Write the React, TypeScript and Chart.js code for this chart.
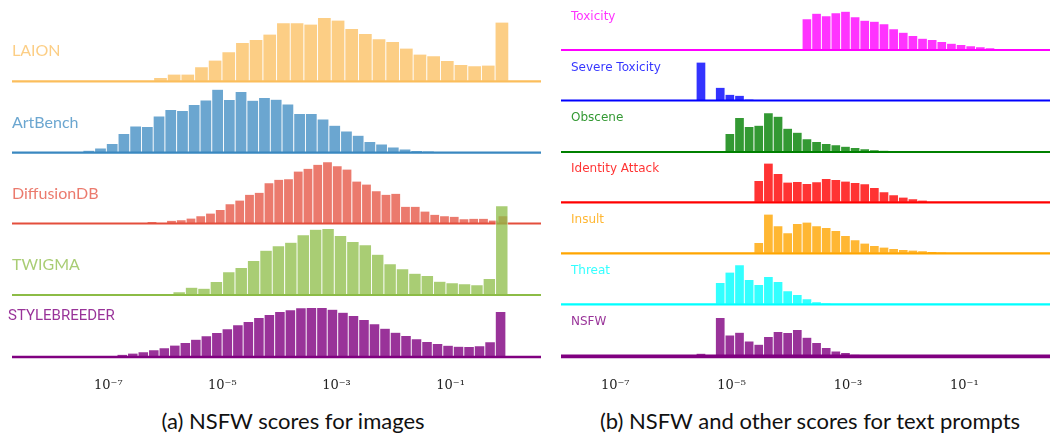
import React, { useEffect, useRef } from 'react';
import { Chart, registerables } from 'chart.js';

Chart.register(...registerables);

// ---------------- data (histogram heights) ----------------
// x values are log10(score); each left-panel series has its own log-spaced bins
const X_TICKS = [-7, -5, -3, -1];

const LAION = [3.3, 6.7, 6.7, 14, 20.7, 29, 38.3, 41.3, 46.7, 58, 58, 56.7, 63.3, 60.7, 52.3, 47.3, 42, 39.3, 32.7, 26.7, 25, 20.3, 16.3, 15, 15.7, 58.7];
const LAION_FIRST_BIN = -6.085;
const LAION_BIN_WIDTH = 0.2394;

const ARTBENCH = [2, 4.3, 8.7, 18.7, 26.3, 25.7, 36.3, 42.7, 41.7, 47.7, 52.3, 63, 52.7, 60.7, 52, 54.7, 53, 48.3, 38.7, 38.7, 33.3, 27, 21.3, 17, 10.7, 8.3, 5.3, 3.3, 1.7, 1.3, 0.5, 0.3];
const ARTBENCH_FIRST_BIN = -7.342;
const ARTBENCH_BIN_WIDTH = 0.2053;

const DIFFUSIONDB = [1.5, 0.3, 2.7, 3.3, 5, 7.3, 10, 13.5, 19.3, 23, 28.7, 30.7, 40.3, 43.7, 44.3, 52, 54.7, 58.7, 61.3, 57.3, 54, 42, 39, 32.3, 28.7, 29.7, 16.7, 16.7, 12, 8.7, 7.3, 6.7, 4.3, 4.7, 4.7, 3, 7.3];
const DIFFUSIONDB_FIRST_BIN = -6.234;
const DIFFUSIONDB_BIN_WIDTH = 0.1709;

const TWIGMA = [0.7, 2.7, 7.3, 6.3, 13, 22.7, 27, 34, 44.3, 48.7, 52.3, 59.7, 65.3, 66, 59, 53, 49.7, 40.3, 30.7, 25.7, 21.3, 19, 13.3, 11.7, 10.7, 9.7, 16, 88.7];
const TWIGMA_FIRST_BIN = -5.975;
const TWIGMA_BIN_WIDTH = 0.2175;

const STYLEBREEDER = [0.3, 1, 2.2, 3.5, 4.8, 6.7, 8.8, 11.5, 14, 17.3, 20.8, 24, 27.7, 31.7, 35, 39, 42, 45, 46.7, 48.7, 49, 49, 47.3, 44.3, 41, 37, 32.7, 28.3, 24.3, 21, 17.7, 15, 13, 11.3, 10.3, 10, 10.7, 14.7, 45];
const STYLEBREEDER_FIRST_BIN = -7.123;
const STYLEBREEDER_BIN_WIDTH = 0.1842;

// right panel: all series share the same bins
const TEXT_FIRST_BIN = -5.527;
const TEXT_BIN_WIDTH = 0.1656;

const TOXICITY = [30.7, 36.3, 33.7, 36.7, 38.3, 32.7, 29.3, 28.3, 25.7, 20.7, 17.3, 14, 11.3, 10, 8, 6.3, 5, 3.7, 2.7, 1.7, 1, 0.3];
const TOXICITY_START = 11;
const SEVERE_TOXICITY = [38, 0, 12.7, 5.7, 4.7, 1];
const SEVERE_TOXICITY_START = 0;
const OBSCENE = [18, 34, 25, 26.3, 38.7, 35.3, 23.3, 19.3, 12.7, 10, 8, 6.7, 5.3, 4, 2.7, 1.7, 1.3];
const OBSCENE_START = 3;
const IDENTITY_ATTACK = [21.3, 38.7, 28.3, 19.7, 20.3, 18.3, 20, 23.3, 22.3, 20.7, 19.3, 18, 14.3, 10, 7, 4.7, 3, 1.7];
const IDENTITY_ATTACK_START = 6;
const INSULT = [10.3, 38.7, 27, 20, 29.3, 30.7, 27, 25.3, 22.3, 17.3, 13, 9.7, 7.3, 5.7, 4.3, 3.3, 2.7, 2, 1.3, 0.7];
const INSULT_START = 6;
const THREAT = [21.3, 31.7, 39, 24.3, 19.3, 27.3, 22.3, 13, 9.3, 5, 2, 0.7];
const THREAT_START = 2;
const NSFW_TEXT = [2.7, 0, 38.3, 21, 23.7, 15, 11.7, 19.3, 24.3, 23.3, 26.3, 18.7, 13.3, 8.3, 5, 3.3, 1.7, 0.7];
const NSFW_TEXT_START = 0;

// ---------------- layout / style ----------------
const PLOT_H = 370; // plot area height in px (y unit = 1px, measured from the top)

const LEFT_X_RANGE = [-8.688, 0.585];
const RIGHT_X_RANGE = [-7.933, 0.473];

type Row = {
  name: string;
  values: number[];
  first: number;
  step: number;
  rgb: number[];
  base: number;
  lineWidth: number;
  labelDy: number;
  labelDx: number;
  font: string;
  alpha: number;
};

const LEFT_FONT = '16px Lato';
const RIGHT_FONT = '12px "DejaVu Sans"';

const LEFT_ROWS: Row[] = [
  { name: 'LAION', values: LAION, first: LAION_FIRST_BIN, step: LAION_BIN_WIDTH, rgb: [251, 190, 92], base: 81.3, lineWidth: 2.2, labelDy: -30, labelDx: 0, font: LEFT_FONT, alpha: 0.75 },
  { name: 'ArtBench', values: ARTBENCH, first: ARTBENCH_FIRST_BIN, step: ARTBENCH_BIN_WIDTH, rgb: [58, 136, 192], base: 152.7, lineWidth: 2.2, labelDy: -30, labelDx: 0, font: LEFT_FONT, alpha: 0.75 },
  { name: 'DiffusionDB', values: DIFFUSIONDB, first: DIFFUSIONDB_FIRST_BIN, step: DIFFUSIONDB_BIN_WIDTH, rgb: [228, 78, 60], base: 223.5, lineWidth: 2.2, labelDy: -30, labelDx: 0, font: LEFT_FONT, alpha: 0.75 },
  { name: 'TWIGMA', values: TWIGMA, first: TWIGMA_FIRST_BIN, step: TWIGMA_BIN_WIDTH, rgb: [140, 188, 70], base: 295, lineWidth: 2.2, labelDy: -30, labelDx: 0, font: LEFT_FONT, alpha: 0.75 },
  { name: 'STYLEBREEDER', values: STYLEBREEDER, first: STYLEBREEDER_FIRST_BIN, step: STYLEBREEDER_BIN_WIDTH, rgb: [128, 0, 128], base: 357, lineWidth: 2.6, labelDy: -41, labelDx: -4, font: '15px Roboto', alpha: 0.8 },
];

const textBin = (start: number) => TEXT_FIRST_BIN + start * TEXT_BIN_WIDTH;

const RIGHT_ROWS: Row[] = [
  { name: 'Toxicity', values: TOXICITY, first: textBin(TOXICITY_START), step: TEXT_BIN_WIDTH, rgb: [255, 0, 255], base: 50, lineWidth: 2.2, labelDy: -33, labelDx: 10, font: RIGHT_FONT, alpha: 0.8 },
  { name: 'Severe Toxicity', values: SEVERE_TOXICITY, first: textBin(SEVERE_TOXICITY_START), step: TEXT_BIN_WIDTH, rgb: [0, 0, 255], base: 100.5, lineWidth: 2.2, labelDy: -33, labelDx: 10, font: RIGHT_FONT, alpha: 0.8 },
  { name: 'Obscene', values: OBSCENE, first: textBin(OBSCENE_START), step: TEXT_BIN_WIDTH, rgb: [0, 128, 0], base: 152, lineWidth: 2.2, labelDy: -34, labelDx: 10, font: RIGHT_FONT, alpha: 0.8 },
  { name: 'Identity Attack', values: IDENTITY_ATTACK, first: textBin(IDENTITY_ATTACK_START), step: TEXT_BIN_WIDTH, rgb: [255, 0, 0], base: 202.3, lineWidth: 2.2, labelDy: -33.5, labelDx: 10, font: RIGHT_FONT, alpha: 0.8 },
  { name: 'Insult', values: INSULT, first: textBin(INSULT_START), step: TEXT_BIN_WIDTH, rgb: [255, 165, 0], base: 253.3, lineWidth: 2.2, labelDy: -33.5, labelDx: 10, font: RIGHT_FONT, alpha: 0.8 },
  { name: 'Threat', values: THREAT, first: textBin(THREAT_START), step: TEXT_BIN_WIDTH, rgb: [0, 255, 255], base: 304.3, lineWidth: 2.2, labelDy: -33.5, labelDx: 10, font: RIGHT_FONT, alpha: 0.8 },
  { name: 'NSFW', values: NSFW_TEXT, first: textBin(NSFW_TEXT_START), step: TEXT_BIN_WIDTH, rgb: [128, 0, 128], base: 356.4, lineWidth: 3.6, labelDy: -34.5, labelDx: 10, font: RIGHT_FONT, alpha: 0.8 },
];

const SUP: Record<string, string> = { '-': '\u207B', '0': '\u2070', '1': '\u00B9', '2': '\u00B2', '3': '\u00B3', '4': '\u2074', '5': '\u2075', '6': '\u2076', '7': '\u2077', '8': '\u2078', '9': '\u2079' };
const tickLabel = (v: number) => '10' + String(v).split('').map((c) => SUP[c] || c).join('');

const rgba = (c: number[], a: number) => `rgba(${c[0]},${c[1]},${c[2]},${a})`;

const rowLabelPlugin = {
  id: 'rowLabels',
  afterDatasetsDraw(chart: any, _args: any, opts: any) {
    const { ctx, chartArea } = chart;
    const y = chart.scales.y;
    (opts.rows as Row[]).forEach((r) => {
      ctx.save();
      ctx.font = r.font;
      ctx.fillStyle = rgba(r.rgb, r.alpha);
      ctx.textBaseline = 'middle';
      ctx.textAlign = 'left';
      ctx.fillText(r.name, chartArea.left + r.labelDx, y.getPixelForValue(r.base + r.labelDy));
      ctx.restore();
    });
  },
};

function buildConfig(rows: Row[], xRange: number[], padLeft: number, padRight: number): any {
  const [xMin, xMax] = xRange;
  const datasets: any[] = [];
  const scales: any = {
    x: {
      type: 'linear',
      min: xMin,
      max: xMax,
      offset: false,
      grid: { display: false, drawTicks: false },
      border: { display: false },
      ticks: {
        font: { family: 'DejaVu Serif', size: 13 },
        color: '#222',
        padding: 8,
        maxRotation: 0,
        autoSkip: false,
        callback: (v: number) => tickLabel(v),
      },
      afterBuildTicks: (s: any) => {
        s.ticks = X_TICKS.map((v) => ({ value: v }));
      },
      afterFit: (s: any) => {
        s.height = 30;
      },
    },
    y: { type: 'linear', min: 0, max: PLOT_H, reverse: true, display: false },
  };
  const total = rows.length * 2;
  let seq = 0;
  rows.forEach((r, i) => {
    const axisId = `xb${i}`;
    scales[axisId] = { type: 'linear', axis: 'x', min: xMin, max: xMax, display: false, offset: false };
    const data = r.values
      .map((h, k) => ({ x: r.first + k * r.step, y: [r.base, r.base - h], h }))
      .filter((d) => d.h > 0)
      .map((d) => ({ x: d.x, y: d.y }));
    datasets.push({
      type: 'bar',
      label: r.name,
      xAxisID: axisId,
      yAxisID: 'y',
      data,
      backgroundColor: rgba(r.rgb, r.alpha),
      borderColor: 'rgba(255,255,255,0.6)',
      borderWidth: 0.8,
      borderSkipped: 'start',
      barPercentage: 1,
      categoryPercentage: 1,
      grouped: false,
      order: total - seq++,
    });
    datasets.push({
      type: 'line',
      label: r.name + ' baseline',
      xAxisID: 'x',
      yAxisID: 'y',
      data: [
        { x: xMin, y: r.base },
        { x: xMax, y: r.base },
      ],
      borderColor: rgba(r.rgb, 1),
      borderWidth: r.lineWidth,
      borderCapStyle: 'butt',
      pointRadius: 0,
      fill: false,
      tension: 0,
      order: total - seq++,
    });
  });
  return {
    type: 'bar',
    data: { datasets },
    plugins: [rowLabelPlugin],
    options: {
      responsive: false,
      animation: false,
      devicePixelRatio: 1,
      events: [],
      layout: { padding: { left: padLeft, right: padRight, top: 0, bottom: 0 } },
      scales,
      plugins: {
        legend: { display: false },
        tooltip: { enabled: false },
        title: { display: false },
        rowLabels: { rows },
      },
    },
  };
}

function Panel(props: { rows: Row[]; xRange: number[]; left: number; width: number; padLeft: number; padRight: number }) {
  const ref = useRef<HTMLCanvasElement | null>(null);
  useEffect(() => {
    if (!ref.current) return;
    const chart = new Chart(ref.current, buildConfig(props.rows, props.xRange, props.padLeft, props.padRight));
    return () => chart.destroy();
  }, []);
  return (
    <canvas
      ref={ref}
      width={props.width}
      height={400}
      style={{ position: 'absolute', left: props.left, top: 0, width: props.width, height: 400 }}
    />
  );
}

const captionStyle: React.CSSProperties = {
  position: 'absolute',
  top: 406,
  height: 30,
  lineHeight: '30px',
  textAlign: 'center',
  fontFamily: 'Lato, "Open Sans", sans-serif',
  fontSize: 22,
  color: '#111',
  whiteSpace: 'nowrap',
};

export default function App() {
  return (
    <div style={{ position: 'absolute', left: 0, top: 0, width: 1050, height: 434, background: '#fff', overflow: 'hidden' }}>
      <Panel rows={LEFT_ROWS} xRange={LEFT_X_RANGE} left={0} width={548} padLeft={12} padRight={7} />
      <Panel rows={RIGHT_ROWS} xRange={RIGHT_X_RANGE} left={550} width={500} padLeft={11} padRight={0} />
      <div style={{ ...captionStyle, left: 0, width: 586 }}>(a) NSFW scores for images</div>
      <div style={{ ...captionStyle, left: 570, width: 480 }}>(b) NSFW and other scores for text prompts</div>
    </div>
  );
}
